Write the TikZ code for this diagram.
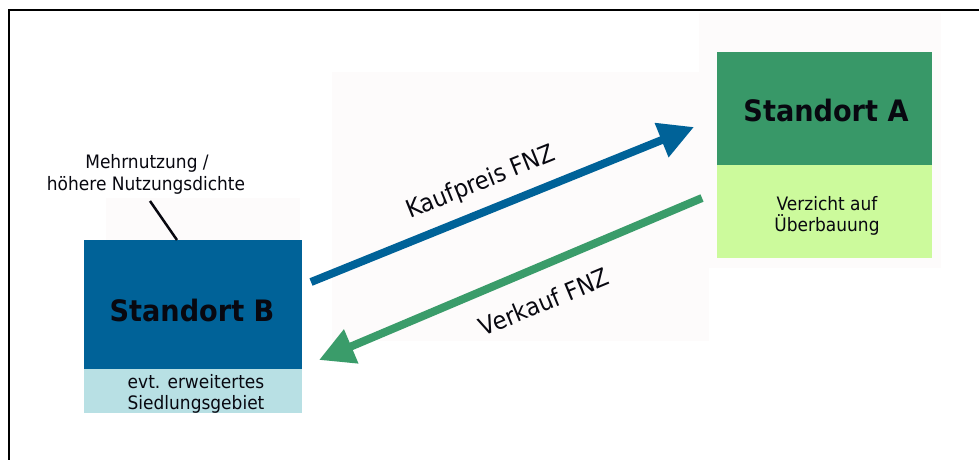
\documentclass[tikz,border=0pt]{standalone}
\usepackage{fontspec}
\setmainfont[FakeStretch=0.92]{DejaVu Sans}
\usetikzlibrary{arrows.meta}
\definecolor{bblue}{RGB}{0,98,152}
\definecolor{dgreen}{RGB}{56,152,104}
\definecolor{agreen}{RGB}{58,156,106}
\definecolor{lgreen}{RGB}{204,250,156}
\definecolor{lblue}{RGB}{184,224,228}
\definecolor{faint}{RGB}{253,251,251}
\definecolor{txt}{RGB}{8,8,16}
\begin{document}
\begin{tikzpicture}[x=1pt,y=-1pt,
  box/.style={inner sep=0pt,outer sep=0pt,draw=none},
  title/.style={inner sep=0pt,text=txt,font=\fontsize{29.5}{34}\selectfont\bfseries},
  small/.style={inner sep=0pt,text=txt,font=\fontsize{18.5}{22}\selectfont},
  lab/.style={inner sep=0pt,text=txt,font=\fontsize{24.5}{29}\selectfont},
  flow/.style={line width=8pt,-{Triangle[length=35pt,width=35pt]}}]
\useasboundingbox (0,0) rectangle (979,459);
\fill[white] (0,0) rectangle (979,459);
% faint background areas
\fill[faint] (332,72) rectangle (709,341);
\fill[faint] (699,13) rectangle (941,268);
\fill[faint] (106,198) rectangle (300,410);
% frame
\draw[line width=2pt] (9,470) -- (9,10) -- (990,10);
% boxes
\node[box,fill=bblue,minimum width=218pt,minimum height=129pt] (B) at (193,304.5) {};
\node[box,fill=lblue,minimum width=218pt,minimum height=44pt,anchor=north] (Bsub) at (B.south) {};
\node[box,fill=dgreen,minimum width=215pt,minimum height=113pt] (A) at (824.5,108.5) {};
\node[box,fill=lgreen,minimum width=215pt,minimum height=93pt,anchor=north] (Asub) at (A.south) {};
% texts
\node[title,anchor=base] (Bt) at (192,321) {Standort B};
\node[title,anchor=base] (At) at (826,121) {Standort A};
\node[small,anchor=base] (Bs1) at (196,388) {evt. erweitertes};
\node[small,anchor=base] (Bs2) at (196,409) {Siedlungsgebiet};
\node[small,anchor=base] (As1) at (827,210) {Verzicht auf};
\node[small,anchor=base] (As2) at (827,231) {Überbauung};
\node[small,anchor=base] (M1) at (147,168) {Mehrnutzung /};
\node[small,anchor=base] (M2) at (146,190) {höhere Nutzungsdichte};
% annotation line
\coordinate (mtop) at (150,201);
\draw[line width=2.5pt,txt] (mtop) -- ([xshift=93pt]B.north west);
% flows
\coordinate (k1) at (311,282);
\coordinate (k2) at (694,127);
\coordinate (g1) at (702,198);
\coordinate (g2) at (319,360);
\draw[flow,bblue] (k1) -- (k2);
\draw[flow,agreen] (g1) -- (g2);
\node[lab,rotate=22] (kl) at (481,183) {Kaufpreis FNZ};
\node[lab,rotate=22.5] (vl) at (544,302) {Verkauf FNZ};
\end{tikzpicture}
\end{document}
